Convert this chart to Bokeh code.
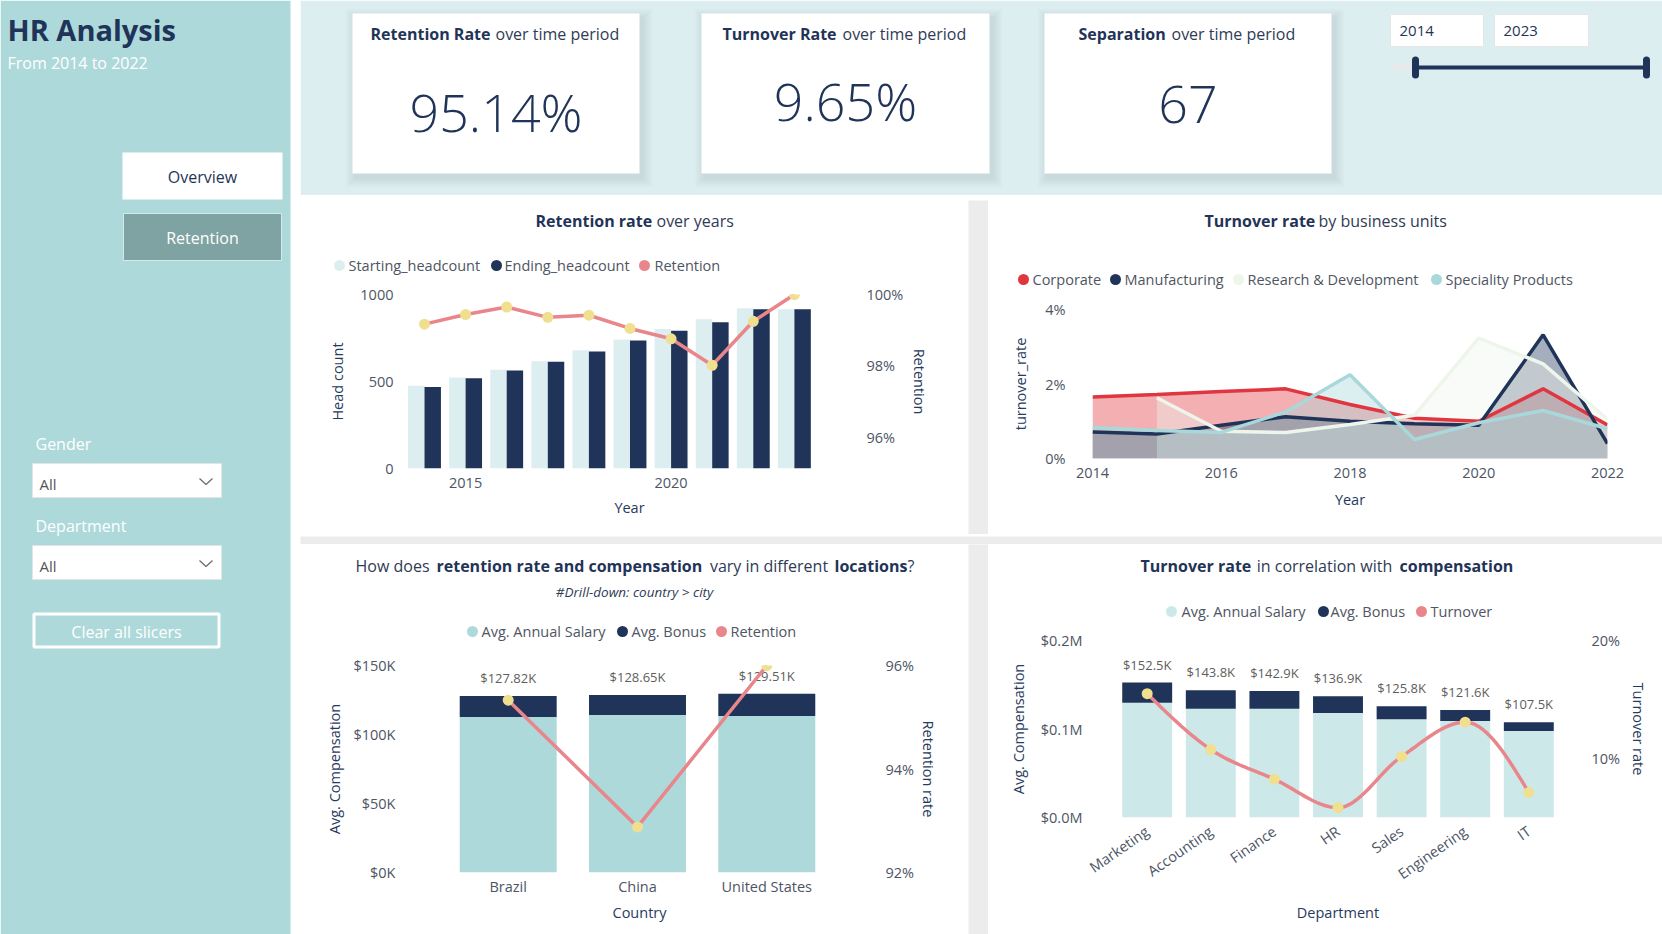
import numpy as np
from bokeh.plotting import figure
from bokeh.layouts import row, column
from bokeh.models import Range1d, LinearAxis, FixedTicker, ColumnDataSource
from bokeh.transform import dodge
from bokeh.core.properties import value
from bokeh.embed import file_html
from bokeh.resources import INLINE

# ---------------------------------------------------------------- data
report_title = "HR Analysis"
report_period = "From 2014 to 2022"
kpi_retention_rate = 95.14
kpi_turnover_rate = 9.65
kpi_separations = 67
slicer_years = [2014, 2023]

years = [2014, 2015, 2016, 2017, 2018, 2019, 2020, 2021, 2022, 2023]
starting_headcount = [475, 523, 567, 617, 679, 742, 802, 858, 921, 915]
ending_headcount = [469, 519, 563, 613, 673, 735, 792, 840, 915, 915]
retention_pct = [99.17, 99.44, 99.65, 99.36, 99.42, 99.05, 98.76, 98.02, 99.25, 100.0]

bu_years = [2014, 2015, 2016, 2017, 2018, 2019, 2020, 2021, 2022]
turnover_corporate = [1.65, 1.72, 1.80, 1.87, 1.45, 1.08, 1.00, 1.87, 0.90]
turnover_manufacturing = [0.71, 0.66, 0.89, 1.12, 1.00, 0.93, 0.89, 3.32, 0.40]
turnover_rnd = [None, 1.63, 0.73, 0.70, 0.91, 1.16, 3.23, 2.54, 1.05]
turnover_speciality = [0.83, 0.75, 0.70, 1.25, 2.25, 0.51, 0.96, 1.29, 0.80]

countries = ["Brazil", "China", "United States"]
country_salary_k = [112.70, 114.10, 113.40]
country_bonus_k = [15.12, 14.55, 16.11]
country_retention = [95.33, 92.88, 96.00]

departments = ["Marketing", "Accounting", "Finance", "HR", "Sales", "Engineering", "IT"]
dept_salary_k = [129.7, 122.9, 122.9, 118.0, 110.9, 109.0, 97.7]
dept_bonus_k = [22.8, 20.9, 20.0, 18.9, 14.9, 12.6, 9.8]
dept_turnover = [15.49, 10.76, 8.24, 5.83, 10.17, 13.08, 7.12]

headcount_ticks = [0, 500, 1000]
retention_ticks = [96, 98, 100]
bu_year_ticks = [2014, 2016, 2018, 2020, 2022]
turnover_ticks = [0, 2, 4]
country_comp_ticks = [0, 50, 100, 150]
country_ret_ticks = [92, 94, 96]
dept_comp_ticks = [0, 100, 200]
dept_turn_ticks = [10, 20]

# ---------------------------------------------------------------- style
FONT = "Open Sans"
LIGHT_FONT = "Open Sans Light"
NAVY = "#1F3458"
TITLE_BOLD = "#1F3458"
TITLE_NORMAL = "#2F3B55"
TICK = "#4D5565"
AXIS_TITLE = "#283A5E"
LEGEND_TXT = "#4F5562"
DATA_LBL = "#605E5C"
PINK = "#E8868C"
YELLOW = "#F0DF8F"
SIDEBAR = "#AED9DA"
BAND = "#DDEEF0"
GAP = "#ECECEC"
HEAD_LIGHT = "#DDEEF0"
SALARY_TEAL = "#AED9DA"
SALARY_PALE = "#CDE8E9"
RED = "#E0363F"
RND = "#EEF6EC"
SPEC = "#A8D8DA"


def canvas(w, h, x0, y0, bg):
    """Plain drawing surface whose data units are page pixels (y grows downward)."""
    p = figure(width=w, height=h, x_range=Range1d(x0, x0 + w), y_range=Range1d(y0 + h, y0),
               x_axis_location=None, y_axis_location=None, toolbar_location=None,
               output_backend="svg", min_border=0, background_fill_color=bg,
               border_fill_color=bg, outline_line_color=None, frame_align=False)
    p.grid.visible = False
    return p


def txt(p, x, y, s, size, color, style="normal", align="left", font=FONT):
    p.text(x=[x], y=[y], text=[s], text_font=value(font), text_font_size=f"{size}px",
           text_font_style=style, text_color=color, text_align=align, text_baseline="middle")


def title_pieces(p, y, pieces, size=16):
    for s, bold, x, align in pieces:
        txt(p, x, y, s, size, TITLE_BOLD if bold else TITLE_NORMAL,
            "bold" if bold else "normal", align=align)


def legend_row(p, y, items):
    for cx, color, tx, label in items:
        p.scatter(x=[cx], y=[y], size=11, fill_color=color, line_color=None)
        txt(p, tx, y, label, 14.5, LEGEND_TXT)


def chart(w, h, left, right, top, bottom, x_range, y_range):
    p = figure(width=w, height=h, x_range=x_range, y_range=y_range, toolbar_location=None,
               output_backend="svg", min_border_left=left, min_border_right=right,
               min_border_top=top, min_border_bottom=bottom, outline_line_color=None,
               background_fill_color="white", border_fill_color="white", frame_align=False)
    p.grid.visible = False
    return p


def style_axis(ax, label, standoff, label_standoff, ticks, overrides=None):
    ax.ticker = FixedTicker(ticks=ticks)
    if overrides:
        ax.major_label_overrides = overrides
    ax.axis_line_color = None
    ax.major_tick_line_color = None
    ax.minor_tick_line_color = None
    ax.major_tick_in = 0
    ax.major_tick_out = 0
    ax.minor_tick_in = 0
    ax.minor_tick_out = 0
    ax.major_label_text_font = FONT
    ax.major_label_text_font_size = "14.5px"
    ax.major_label_text_color = TICK
    ax.major_label_standoff = standoff
    ax.axis_label = label
    ax.axis_label_text_font = FONT
    ax.axis_label_text_font_size = "14.5px"
    ax.axis_label_text_font_style = "normal"
    ax.axis_label_text_color = AXIS_TITLE
    ax.axis_label_standoff = label_standoff


def monotone_curve(xs, ys, steps=24):
    """Monotone cubic (monotone-x) path through the points."""
    xs = np.asarray(xs, float)
    ys = np.asarray(ys, float)
    n = len(xs)
    h = np.diff(xs)
    s = np.diff(ys) / h
    t = np.zeros(n)
    for i in range(1, n - 1):
        p = (s[i - 1] * h[i] + s[i] * h[i - 1]) / (h[i - 1] + h[i])
        t[i] = (np.sign(s[i - 1]) + np.sign(s[i])) * min(abs(s[i - 1]), abs(s[i]), 0.5 * abs(p))
    t[0] = (3 * s[0] - t[1]) / 2
    t[-1] = (3 * s[-1] - t[-2]) / 2
    px, py = [xs[0]], [ys[0]]
    u = np.linspace(0, 1, steps + 1)[1:]
    for i in range(n - 1):
        dx = h[i] / 3
        bx = [xs[i], xs[i] + dx, xs[i + 1] - dx, xs[i + 1]]
        by = [ys[i], ys[i] + dx * t[i], ys[i + 1] - dx * t[i + 1], ys[i + 1]]
        b = [(1 - u) ** 3, 3 * u * (1 - u) ** 2, 3 * u ** 2 * (1 - u), u ** 3]
        px.extend(sum(b[k] * bx[k] for k in range(4)))
        py.extend(sum(b[k] * by[k] for k in range(4)))
    return px, py


# ---------------------------------------------------------------- sidebar
sb = canvas(300, 934, 0, 0, "white")
sb.quad(left=[0], right=[290], top=[0], bottom=[934], fill_color=SIDEBAR, line_color=None)
txt(sb, 7, 29, report_title, 29, NAVY, "bold")
txt(sb, 7, 62, report_period, 16, "white")
sb.quad(left=[122], right=[282], top=[152], bottom=[199], fill_color="white", line_color=None)
txt(sb, 202, 176, "Overview", 16, NAVY, align="center")
sb.quad(left=[123], right=[281], top=[213], bottom=[260], fill_color="#7FA3A2",
        line_color="#D4E9E9", line_width=1)
txt(sb, 202, 237, "Retention", 16, "white", align="center")
for label, ly, top in [("Gender", 443, 463), ("Department", 525, 545)]:
    txt(sb, 35, ly, label, 16, "white")
    sb.quad(left=[32], right=[221], top=[top], bottom=[top + 34], fill_color="white",
            line_color="#E4E4E4", line_width=1)
    txt(sb, 39, top + 20, "All", 15, "#555555")
    sb.line(x=[199, 205.5, 212], y=[top + 15, top + 21, top + 15], line_color="#6B6B6B", line_width=1.2)
sb.quad(left=[33.5], right=[218.5], top=[613.5], bottom=[646.5], fill_color=None,
        line_color="white", line_width=3)
txt(sb, 126, 631, "Clear all slicers", 16, "white", align="center")

# ---------------------------------------------------------------- top band with KPI cards
band = canvas(1362, 200, 300, 0, "white")
band.quad(left=[300], right=[1662], top=[0], bottom=[193], fill_color=BAND, line_color=None)
band.segment(x0=[300], y0=[193.5], x1=[1662], y1=[193.5], line_color="#C8E1E3", line_width=1)

cards = [
    (352, 639, "Retention Rate", 370, 495, f"{kpi_retention_rate:.2f}%", 111),
    (701, 989, "Turnover Rate", 722, 842, f"{kpi_turnover_rate:.2f}%", 100),
    (1044, 1331, "Separation", 1078, 1171, f"{kpi_separations}", 104),
]
for l, r, bold_txt, bx, nx, val, vy in cards:
    for i in range(1, 11):
        band.quad(left=[l - i + 3], right=[r + i + 3], top=[13 - i + 5], bottom=[173 + i + 4],
                  fill_color="#56767A", fill_alpha=0.013, line_color=None)
    band.quad(left=[l], right=[r], top=[13], bottom=[173], fill_color="white", line_color=None)
    txt(band, bx, 33, bold_txt, 16, TITLE_BOLD, "bold")
    txt(band, nx, 33, "over time period", 16, TITLE_NORMAL)
    txt(band, (l + r) / 2, vy, val, 52, NAVY, align="center", font=LIGHT_FONT)

band.quad(left=[1390, 1494], right=[1483, 1588], top=[14, 14], bottom=[46, 46],
          fill_color="white", line_color="#E6E6E6", line_width=1)
txt(band, 1399, 30, str(slicer_years[0]), 15, NAVY)
txt(band, 1503, 30, str(slicer_years[1]), 15, NAVY)
band.segment(x0=[1390], y0=[67], x1=[1415], y1=[67], line_color="#E9E9E9", line_width=5)
band.segment(x0=[1415], y0=[67], x1=[1646], y1=[67], line_color=NAVY, line_width=4)
band.segment(x0=[1415, 1646], y0=[59.5, 59.5], x1=[1415, 1646], y1=[74.5, 74.5],
             line_color=NAVY, line_width=7, line_cap="round")

# ---------------------------------------------------------------- retention rate over years
h1 = canvas(668, 82, 300, 200, "white")
title_pieces(h1, 220, [("Retention rate", True, 535, "left"), ("over years", False, 656, "left")])
legend_row(h1, 265, [(339, HEAD_LIGHT, 348, "Starting_headcount"),
                     (496, NAVY, 504, "Ending_headcount"),
                     (644, PINK, 654, "Retention")])

src1 = ColumnDataSource(dict(year=years, start=starting_headcount, end=ending_headcount,
                             ret=retention_pct))
c1 = chart(668, 252, 100, 110, 12, 66, Range1d(2013.416, 2024.56), Range1d(0, 1000))
c1.extra_y_ranges = {"ret": Range1d(95.13, 100)}
c1.vbar(x=dodge("year", -0.2), top="start", width=0.4, source=src1,
        fill_color=HEAD_LIGHT, line_color=None)
c1.vbar(x=dodge("year", 0.2), top="end", width=0.4, source=src1,
        fill_color=NAVY, line_color=None)
c1.line(x="year", y="ret", source=src1, y_range_name="ret", line_color=PINK, line_width=3.5)
c1.scatter(x="year", y="ret", source=src1, y_range_name="ret", size=11,
           fill_color=YELLOW, line_color=None)
style_axis(c1.left[0], "Head count", 7, 10, headcount_ticks)
style_axis(c1.below[0], "Year", 9, 7, [2015, 2020])
ax1r = LinearAxis(y_range_name="ret")
style_axis(ax1r, "Retention", 8, 4, retention_ticks, {t: f"{t}%" for t in retention_ticks})
c1.add_layout(ax1r, "right")

# ---------------------------------------------------------------- turnover by business unit
h2 = canvas(674, 90, 988, 200, "white")
title_pieces(h2, 220, [("Turnover rate", True, 1204, "left"),
                       ("by business units", False, 1318, "left")])
legend_row(h2, 279, [(1023, RED, 1032, "Corporate"),
                     (1115, NAVY, 1124, "Manufacturing"),
                     (1238, RND, 1247, "Research & Development"),
                     (1436, SPEC, 1445, "Speciality Products")])

c2 = chart(674, 244, 104, 55, 19, 76, Range1d(2014, 2022), Range1d(0, 4))
bu_series = [(turnover_corporate, RED), (turnover_manufacturing, NAVY),
             (turnover_rnd, RND), (turnover_speciality, SPEC)]
bu_xy = []
for vals, color in bu_series:
    xs = [yr for yr, v in zip(bu_years, vals) if v is not None]
    ys = [v for v in vals if v is not None]
    bu_xy.append((xs, ys, color))
    c2.varea(x=xs, y1=[0] * len(xs), y2=ys, fill_color=color, fill_alpha=0.4)
for xs, ys, color in bu_xy:
    c2.line(x=xs, y=ys, line_color=color, line_width=3.5)
style_axis(c2.left[0], "turnover_rate", 27, 12, turnover_ticks, {t: f"{t}%" for t in turnover_ticks})
style_axis(c2.below[0], "Year", 9, 9, bu_year_ticks)

# ---------------------------------------------------------------- compensation by country
h3 = canvas(668, 106, 300, 544, "white")
title_pieces(h3, 565, [("How does", False, 392, "center"),
                       ("retention rate and compensation", True, 436, "left"),
                       ("vary in different", False, 768.5, "center"),
                       ("locations", True, 834, "left"),
                       ("?", False, 907, "left")])
txt(h3, 634, 591, "#Drill-down: country > city", 13.5, TITLE_NORMAL, "italic", align="center")
legend_row(h3, 631, [(472, SALARY_TEAL, 481, "Avg. Annual Salary"),
                     (622, NAVY, 631, "Avg. Bonus"),
                     (721, PINK, 730, "Retention")])

country_idx = list(range(len(countries)))
country_total_k = [s + b for s, b in zip(country_salary_k, country_bonus_k)]
src3 = ColumnDataSource(dict(x=country_idx, salary=country_salary_k, total=country_total_k,
                             ret=country_retention,
                             lbl=[f"${v:.2f}K" for v in country_total_k]))
c3 = chart(668, 284, 100, 90, 15, 62, Range1d(-0.833, 2.864), Range1d(0, 150))
c3.extra_y_ranges = {"ret": Range1d(92, 96)}
c3.vbar(x="x", bottom=0, top="salary", width=0.75, source=src3, fill_color=SALARY_TEAL, line_color=None)
c3.vbar(x="x", bottom="salary", top="total", width=0.75, source=src3, fill_color=NAVY, line_color=None)
c3.text(x="x", y="total", text="lbl", source=src3, y_offset=-18, text_font=value(FONT),
        text_font_size="13px", text_color=DATA_LBL, text_align="center", text_baseline="middle")
c3.line(x="x", y="ret", source=src3, y_range_name="ret", line_color=PINK, line_width=3.5)
c3.scatter(x="x", y="ret", source=src3, y_range_name="ret", size=11, fill_color=YELLOW, line_color=None)
style_axis(c3.left[0], "Avg. Compensation", 5, 6, country_comp_ticks,
           {t: f"${t}K" for t in country_comp_ticks})
style_axis(c3.below[0], "Country", 4, 4, country_idx, {i: c for i, c in zip(country_idx, countries)})
ax3r = LinearAxis(y_range_name="ret")
style_axis(ax3r, "Retention rate", 7, 2, country_ret_ticks, {t: f"{t}%" for t in country_ret_ticks})
c3.add_layout(ax3r, "right")

# ---------------------------------------------------------------- compensation vs turnover by department
h4 = canvas(674, 81, 988, 544, "white")
title_pieces(h4, 565, [("Turnover rate", True, 1140, "left"),
                       ("in correlation with", False, 1324, "center"),
                       ("compensation", True, 1399, "left")])
legend_row(h4, 611, [(1171, SALARY_PALE, 1181, "Avg. Annual Salary"),
                     (1323, NAVY, 1330, "Avg. Bonus"),
                     (1421, PINK, 1430, "Turnover")])

dept_idx = list(range(len(departments)))
dept_total_k = [s + b for s, b in zip(dept_salary_k, dept_bonus_k)]
src4 = ColumnDataSource(dict(x=dept_idx, salary=dept_salary_k, total=dept_total_k,
                             turn=dept_turnover,
                             lbl=[f"${v:.1f}K" for v in dept_total_k]))
c4 = chart(674, 309, 104, 79, 15, 117, Range1d(-0.86, 6.86), Range1d(0, 200))
c4.extra_y_ranges = {"turn": Range1d(5, 20)}
c4.vbar(x="x", bottom=0, top="salary", width=0.785, source=src4, fill_color=SALARY_PALE, line_color=None)
c4.vbar(x="x", bottom="salary", top="total", width=0.785, source=src4, fill_color=NAVY, line_color=None)
c4.text(x="x", y="total", text="lbl", source=src4, y_offset=-18, text_font=value(FONT),
        text_font_size="13px", text_color=DATA_LBL, text_align="center", text_baseline="middle")
curve_x, curve_y = monotone_curve(dept_idx, dept_turnover)
c4.line(x=curve_x, y=curve_y, y_range_name="turn", line_color=PINK, line_width=3.5)
c4.scatter(x="x", y="turn", source=src4, y_range_name="turn", size=11, fill_color=YELLOW, line_color=None)
style_axis(c4.left[0], "Avg. Compensation", 10, 10, dept_comp_ticks,
           {t: f"${t / 1000:.1f}M" for t in dept_comp_ticks})
style_axis(c4.below[0], "Department", 12, 9, dept_idx, {i: d for i, d in zip(dept_idx, departments)})
c4.below[0].major_label_orientation = 0.61
ax4r = LinearAxis(y_range_name="turn")
style_axis(ax4r, "Turnover rate", 8, 6, dept_turn_ticks, {t: f"{t}%" for t in dept_turn_ticks})
c4.add_layout(ax4r, "right")

# ---------------------------------------------------------------- page layout
vgap1 = canvas(20, 334, 968, 200, GAP)
hgap = canvas(1362, 10, 300, 534, GAP)
vgap2 = canvas(20, 390, 968, 544, GAP)

top_row = row(column(h1, c1), vgap1, column(h2, c2))
bottom_row = row(column(h3, c3), vgap2, column(h4, c4))
page = row(sb, column(band, top_row, hgap, bottom_row))

with open("out.html", "w") as f:
    f.write(file_html(page, INLINE))
